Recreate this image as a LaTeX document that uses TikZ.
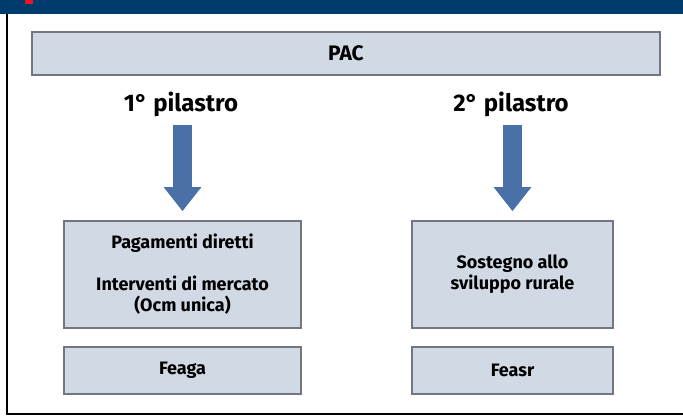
\documentclass[tikz,border=0pt]{standalone}
\usepackage{fontspec}
\setmainfont{Fira Sans}
\usetikzlibrary{positioning,arrows.meta}
\definecolor{Band}{rgb}{0.0, 0.23, 0.43}
\definecolor{Mark}{rgb}{0.92, 0.08, 0.14}
\definecolor{BoxFill}{rgb}{0.82, 0.85, 0.9}
\definecolor{BoxLine}{rgb}{0.45, 0.46, 0.5}
\definecolor{ArrowFill}{rgb}{0.29, 0.44, 0.66}
\tikzset{pac layout/.style={%
    y=-1pt,%
    x=1pt,%
    every node/.style={%
        font=\bfseries, inner sep=0pt%
    }%
}}
\tikzset{pac box/.style={%
    draw=BoxLine, fill=BoxFill, line width=1.6pt, align=center,%
    font=\bfseries\fontsize{18}{21}\selectfont%
}}
\tikzset{pillar label/.style={%
    font=\bfseries\fontsize{24}{28}\selectfont%
}}
\tikzset{pillar arrow/.style={%
    ArrowFill, line width=19pt, shorten <=8pt, shorten >=9pt,%
    -{Triangle[width=36pt,length=24pt]}%
}}

\begin{document}
\begin{tikzpicture}[pac layout]
    \useasboundingbox (0,0) rectangle (683,418);
    % frame
    \fill[Band] (0,0) rectangle (683,14);
    \fill[Mark] (25,0) rectangle (33,4);
    \draw[black, line width=2.4pt] (7,14) -- (7,414) -- (683,414);

    \node[pac box, minimum width=628pt, minimum height=43pt, font=\bfseries\fontsize{21}{24}\selectfont] (pac) at (346,53.5) {PAC};

    \node[pillar label] (pil1) at (181,104) {1° pilastro};
    \node[pillar label] (pil2) at (511,104) {2° pilastro};

    \node[pac box, minimum width=237pt, minimum height=107pt] (box1) at (182.5,274.5)
        {Pagamenti diretti\\[21pt]Interventi di mercato\\(Ocm unica)};
    \node[pac box, minimum width=201pt, minimum height=107pt] (box2) at (512.5,274.5)
        {Sostegno allo\\sviluppo rurale};

    \node[pac box, minimum width=237pt, minimum height=47pt] (fund1) at (182.5,370.5) {Feaga};
    \node[pac box, minimum width=201pt, minimum height=47pt] (fund2) at (512.5,370.5) {Feasr};

    \foreach \i in {1,2} {
        \draw[pillar arrow] (box\i.north |- pil\i.south) -- (box\i.north);
    }
\end{tikzpicture}
\end{document}
